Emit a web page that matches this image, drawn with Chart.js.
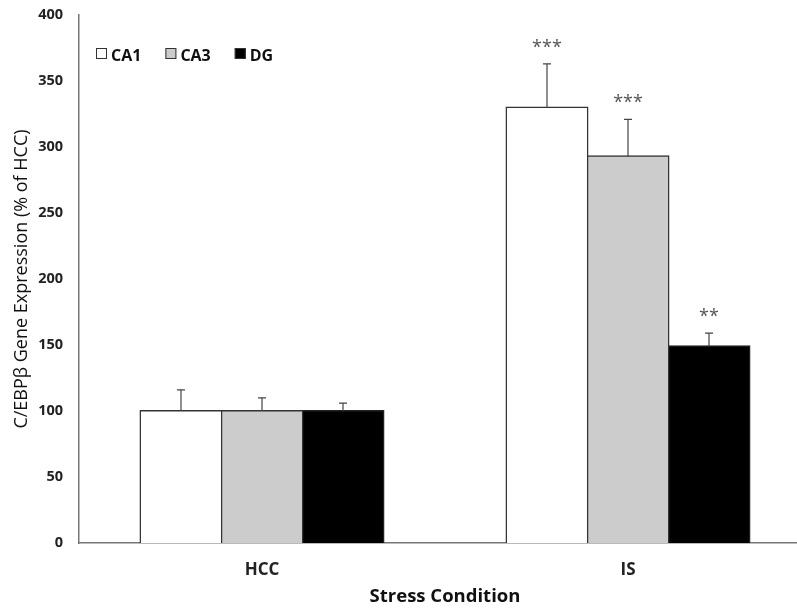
<!DOCTYPE html>
<html>
<head>
<meta charset="utf-8">
<script src="https://cdn.jsdelivr.net/npm/chart.js@4.4.1/dist/chart.umd.min.js"></script>
<style>
  html, body { margin: 0; padding: 0; background: #fff; overflow: hidden; }
  #wrap { width: 811px; height: 612px; }
</style>
</head>
<body>
<div id="wrap"><canvas id="c" width="811" height="612"></canvas></div>
<script>
// Datos
const conditions = ['HCC', 'IS'];
const regions = ['CA1', 'CA3', 'DG'];
const ca1Mean = [100, 330];
const ca3Mean = [100, 293];
const dgMean = [100, 149];
const ca1Sem = [16, 33];
const ca3Sem = [10, 28];
const dgSem = [6, 10];
const ca1Sig = ['', '***'];
const ca3Sig = ['', '***'];
const dgSig = ['', '**'];
const yTicks = [0, 50, 100, 150, 200, 250, 300, 350, 400];

const FONT = '"Open Sans", "Liberation Sans", sans-serif';
const errors = [ca1Sem, ca3Sem, dgSem];
const stars = [ca1Sig, ca3Sig, dgSig];

// Barras de error (solo hacia arriba) y asteriscos
const errorBarPlugin = {
    id: 'errorBars',
    afterDatasetsDraw(chart) {
        const ctx = chart.ctx;
        const y = chart.scales.y;
        ctx.save();
        chart.data.datasets.forEach((ds, i) => {
            const meta = chart.getDatasetMeta(i);
            meta.data.forEach((bar, j) => {
                const top = y.getPixelForValue(ds.data[j] + errors[i][j]);
                const base = y.getPixelForValue(ds.data[j]);
                ctx.strokeStyle = '#444';
                ctx.lineWidth = 1.2;
                ctx.beginPath();
                ctx.moveTo(bar.x, base);
                ctx.lineTo(bar.x, top);
                ctx.moveTo(bar.x - 4, top);
                ctx.lineTo(bar.x + 4, top);
                ctx.stroke();
                if (stars[i][j]) {
                    ctx.fillStyle = '#555';
                    ctx.font = '18px ' + FONT;
                    ctx.textAlign = 'center';
                    ctx.textBaseline = 'middle';
                    ctx.fillText(stars[i][j], bar.x, top - 16);
                }
            });
        });
        ctx.restore();
    }
};

// Leyenda dentro del área del gráfico
const innerLegend = {
    id: 'innerLegend',
    afterDraw(chart) {
        const ctx = chart.ctx;
        const area = chart.chartArea;
        let x = area.left + 17;
        const yMid = area.top + 39;
        ctx.save();
        ctx.font = 'bold 16px ' + FONT;
        ctx.textBaseline = 'middle';
        ctx.textAlign = 'left';
        chart.data.datasets.forEach(ds => {
            ctx.fillStyle = ds.backgroundColor;
            ctx.strokeStyle = '#333';
            ctx.lineWidth = 1;
            ctx.fillRect(x, yMid - 6, 11, 11);
            ctx.strokeRect(x + 0.5, yMid - 5.5, 10, 10);
            ctx.fillStyle = '#111';
            ctx.fillText(ds.label, x + 15, yMid + 2);
            x += 15 + ctx.measureText(ds.label).width + 24;
        });
        ctx.restore();
    }
};

new Chart(document.getElementById('c').getContext('2d'), {
    type: 'bar',
    plugins: [errorBarPlugin, innerLegend],
    data: {
        labels: conditions,
        datasets: [
            { label: regions[0], data: ca1Mean, backgroundColor: '#ffffff', borderColor: '#333', borderWidth: 1.5 },
            { label: regions[1], data: ca3Mean, backgroundColor: '#cccccc', borderColor: '#333', borderWidth: 1.5 },
            { label: regions[2], data: dgMean, backgroundColor: '#000000', borderColor: '#222', borderWidth: 1.5 }
        ]
    },
    options: {
        responsive: false,
        animation: false,
        layout: { padding: { left: 4, top: 15, right: 0, bottom: 0 } },
        plugins: { legend: { display: false }, tooltip: { enabled: false } },
        datasets: { bar: { barPercentage: 1, categoryPercentage: 0.664, inflateAmount: 1 } },
        scales: {
            x: {
                afterFit: s => { s.height = 69; },
                grid: { display: false, drawTicks: false },
                border: { color: '#777', width: 1.5 },
                ticks: { color: '#222', font: { family: FONT, size: 17, weight: 'bold' }, padding: 17 },
                title: { display: true, text: 'Stress Condition', color: '#111', font: { family: FONT, size: 18.5, weight: 'bold' }, padding: { top: 4, bottom: 4 } }
            },
            y: {
                min: 0, max: 400,
                afterFit: s => { s.width = 75; s.paddingTop = 0; s.paddingBottom = 0; },
                afterBuildTicks: axis => { axis.ticks = yTicks.map(v => ({ value: v })); },
                grid: { display: false, drawTicks: true, tickLength: 6, tickColor: '#777', tickWidth: 1.5 },
                border: { color: '#777', width: 1.5 },
                ticks: { color: '#222', font: { family: FONT, size: 14.5, weight: 'bold' }, padding: 10 },
                title: { display: true, text: 'C/EBPβ Gene Expression (% of HCC)', color: '#111', font: { family: FONT, size: 18 }, padding: { top: 7, bottom: 4 } }
            }
        }
    }
});
</script>
</body>
</html>
